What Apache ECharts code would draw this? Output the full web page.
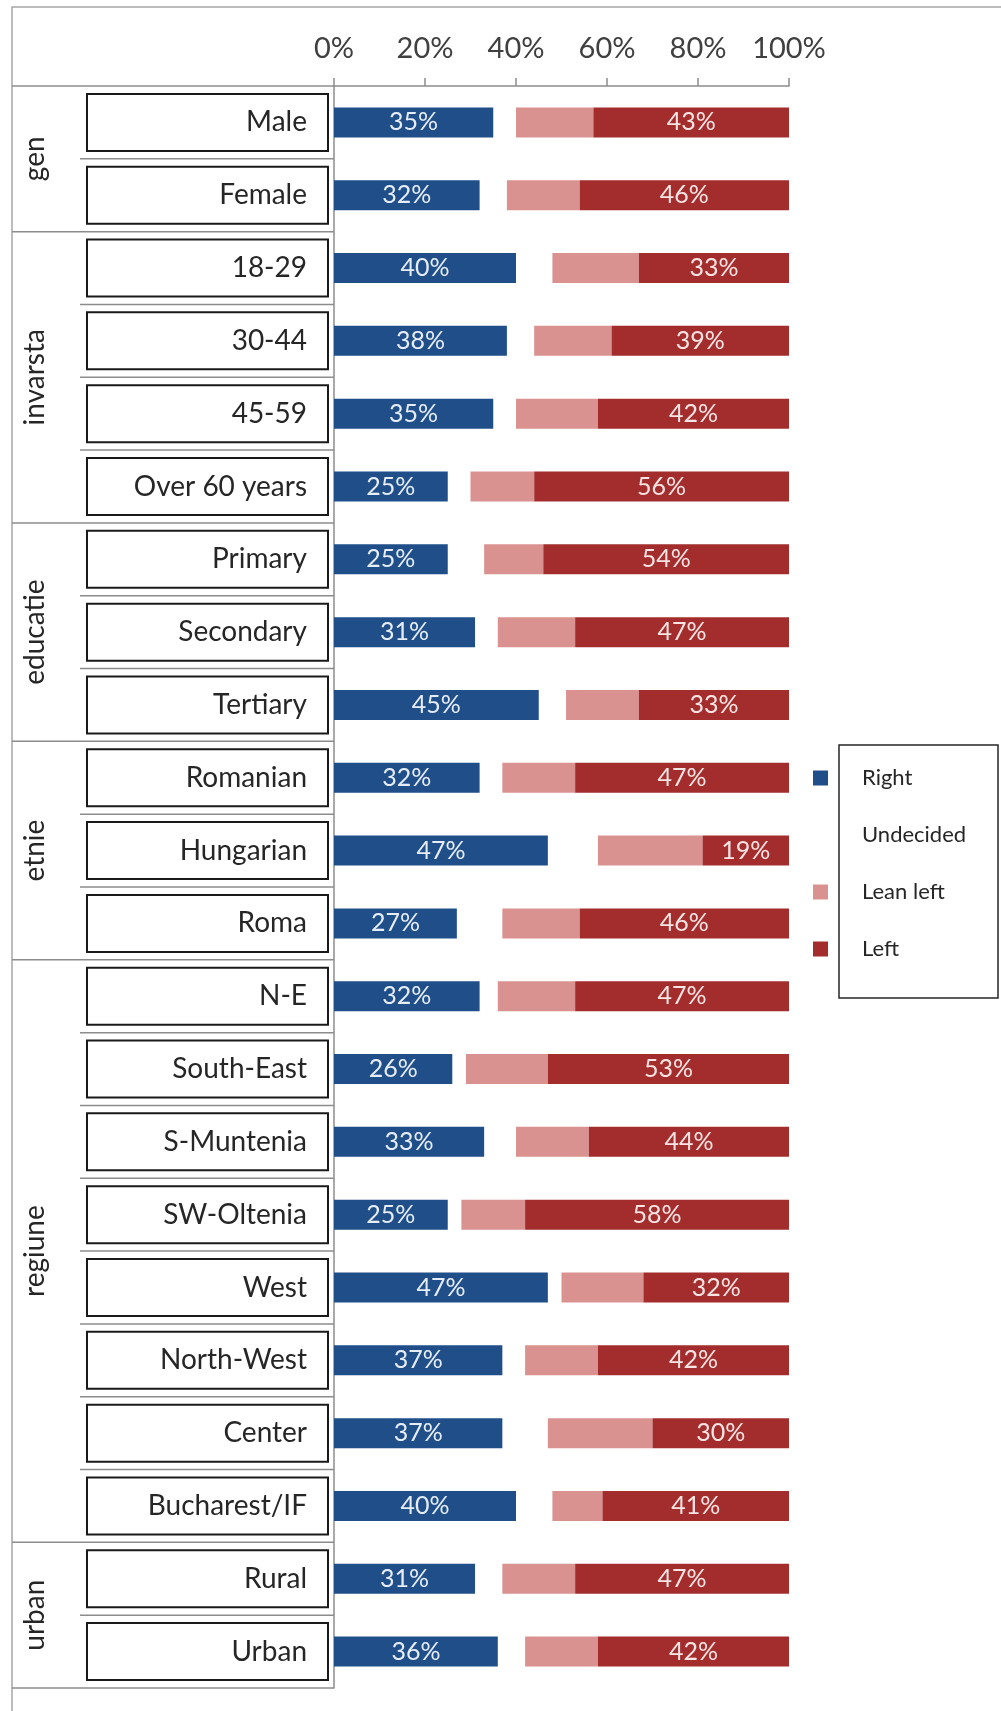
<!DOCTYPE html>
<html>
<head>
<meta charset="utf-8">
<title>Political leaning by group</title>
<script src="https://cdn.jsdelivr.net/npm/echarts@6/dist/echarts.min.js"></script>
<style>
  html, body { margin: 0; padding: 0; background: #ffffff; }
  #chart { width: 1001px; height: 1711px; }
</style>
</head>
<body>
<div id="chart"></div>
<script>
// Respondent categories, top to bottom
const categories = [
  'Male', 'Female',
  '18-29', '30-44', '45-59', 'Over 60 years',
  'Primary', 'Secondary', 'Tertiary',
  'Romanian', 'Hungarian', 'Roma',
  'N-E', 'South-East', 'S-Muntenia', 'SW-Oltenia', 'West', 'North-West', 'Center', 'Bucharest/IF',
  'Rural', 'Urban'
];

// Grouping of the categories (name and number of rows)
const groupNames = ['gen', 'invarsta', 'educatie', 'etnie', 'regiune', 'urban'];
const groupSizes = [2, 4, 3, 3, 8, 2];

// Shares in percent
const right     = [35, 32, 40, 38, 35, 25, 25, 31, 45, 32, 47, 27, 32, 26, 33, 25, 47, 37, 37, 40, 31, 36];
const undecided = [ 5,  6,  8,  6,  5,  5,  8,  5,  6,  5, 11, 10,  4,  3,  7,  3,  3,  5, 10,  8,  6,  6];
const leanLeft  = [17, 16, 19, 17, 18, 14, 13, 17, 16, 16, 23, 17, 17, 18, 16, 14, 18, 16, 23, 11, 16, 16];
const left      = [43, 46, 33, 39, 42, 56, 54, 47, 33, 47, 19, 46, 47, 53, 44, 58, 32, 42, 30, 41, 47, 42];

// Axis ticks
const axisMin = 0;
const axisMax = 100;
const axisStep = 20;

const seriesNames = ['Right', 'Undecided', 'Lean left', 'Left'];

const FONT = 'Lato';
const AXIS_GRAY = '#8c8c8c';

const chart = echarts.init(document.getElementById('chart'), null, { renderer: 'canvas' });

function barSeries(name, values, color, labelColor) {
  return {
    name: name,
    type: 'bar',
    stack: 'total',
    barWidth: 30,
    data: values,
    itemStyle: { color: color },
    emphasis: { disabled: true },
    label: labelColor ? {
      show: true,
      position: 'inside',
      formatter: '{c}%',
      fontFamily: FONT,
      fontSize: 25,
      color: labelColor
    } : { show: false }
  };
}

chart.setOption({
  animation: false,
  backgroundColor: '#ffffff',
  textStyle: { fontFamily: FONT },
  grid: { left: 334, top: 86, width: 455, height: 1602, containLabel: false },
  legend: {
    orient: 'vertical',
    left: 813,
    top: 767,
    padding: 0,
    itemWidth: 15,
    itemHeight: 15,
    itemGap: 35,
    icon: 'rect',
    selectedMode: false,
    data: seriesNames,
    textStyle: {
      fontFamily: FONT,
      fontSize: 22,
      color: '#262626',
      padding: [0, 0, 0, 29]
    }
  },
  xAxis: {
    type: 'value',
    position: 'top',
    min: axisMin,
    max: axisMax,
    interval: axisStep,
    splitLine: { show: false },
    axisLine: { show: true, lineStyle: { color: AXIS_GRAY, width: 1.5 } },
    axisTick: { show: true, inside: false, length: 8, lineStyle: { color: AXIS_GRAY, width: 1.5 } },
    axisLabel: {
      formatter: '{value}%',
      fontFamily: FONT,
      fontSize: 29,
      color: '#404040',
      margin: 23
    }
  },
  yAxis: {
    type: 'category',
    inverse: true,
    data: categories,
    axisLine: { show: true, lineStyle: { color: AXIS_GRAY, width: 1.5 } },
    axisTick: { show: false },
    axisLabel: {
      interval: 0,
      margin: 7,
      align: 'right',
      verticalAlign: 'middle',
      fontFamily: FONT,
      fontSize: 28,
      color: '#262626',
      width: 215,
      lineHeight: 55,
      padding: [0, 20, 0, 4],
      borderColor: '#1a1a1a',
      borderWidth: 2,
      backgroundColor: '#ffffff'
    }
  },
  series: [
    barSeries(seriesNames[0], right, '#1F4E89', '#e6edf7'),
    barSeries(seriesNames[1], undecided, 'rgba(0,0,0,0)', null),
    barSeries(seriesNames[2], leanLeft, '#DA9291', null),
    barSeries(seriesNames[3], left, '#A32D2D', '#f8e4e3')
  ]
});

// Group separators, group titles and the frame of the chart area
function buildDecorations() {
  const yOf = (i) => chart.convertToPixel({ yAxisIndex: 0 }, i);
  const half = (yOf(1) - yOf(0)) / 2;
  const axisX = chart.convertToPixel({ xAxisIndex: 0 }, axisMin);
  const outerX = 12;
  const innerX = 80;
  const elements = [];

  // outer frame of the chart area
  elements.push({
    type: 'rect',
    shape: { x: outerX, y: 7, width: 1100, height: 1800 },
    style: { fill: 'none', stroke: '#a6a6a6', lineWidth: 1.5 },
    z: 0
  });

  const hLine = (x1, y, stroke) => ({
    type: 'line',
    shape: { x1: x1, y1: y, x2: axisX, y2: y },
    style: { stroke: stroke || AXIS_GRAY, lineWidth: 1.5 },
    z: 1
  });

  // top edge of the label table
  elements.push(hLine(outerX, yOf(0) - half));

  let start = 0;
  groupNames.forEach((name, g) => {
    const size = groupSizes[g];
    const end = start + size - 1;
    // separators inside the group
    for (let i = start; i < end; i++) {
      elements.push(hLine(innerX, yOf(i) + half));
    }
    // separator below the group
    elements.push(hLine(outerX, yOf(end) + half));
    // rotated group title
    const mid = (yOf(start) + yOf(end)) / 2;
    elements.push({
      type: 'text',
      x: 35,
      y: mid,
      rotation: Math.PI / 2,
      style: {
        text: name,
        fontFamily: FONT,
        fontSize: 28,
        fill: '#262626',
        align: 'center',
        verticalAlign: 'middle'
      },
      z: 2
    });
    start = end + 1;
  });

  // legend frame
  elements.push({
    type: 'rect',
    shape: { x: 839, y: 745, width: 159, height: 253 },
    style: { fill: 'none', stroke: '#262626', lineWidth: 1.5 },
    z: 1
  });

  chart.setOption({ graphic: { elements: elements } });
}

buildDecorations();
</script>
</body>
</html>
